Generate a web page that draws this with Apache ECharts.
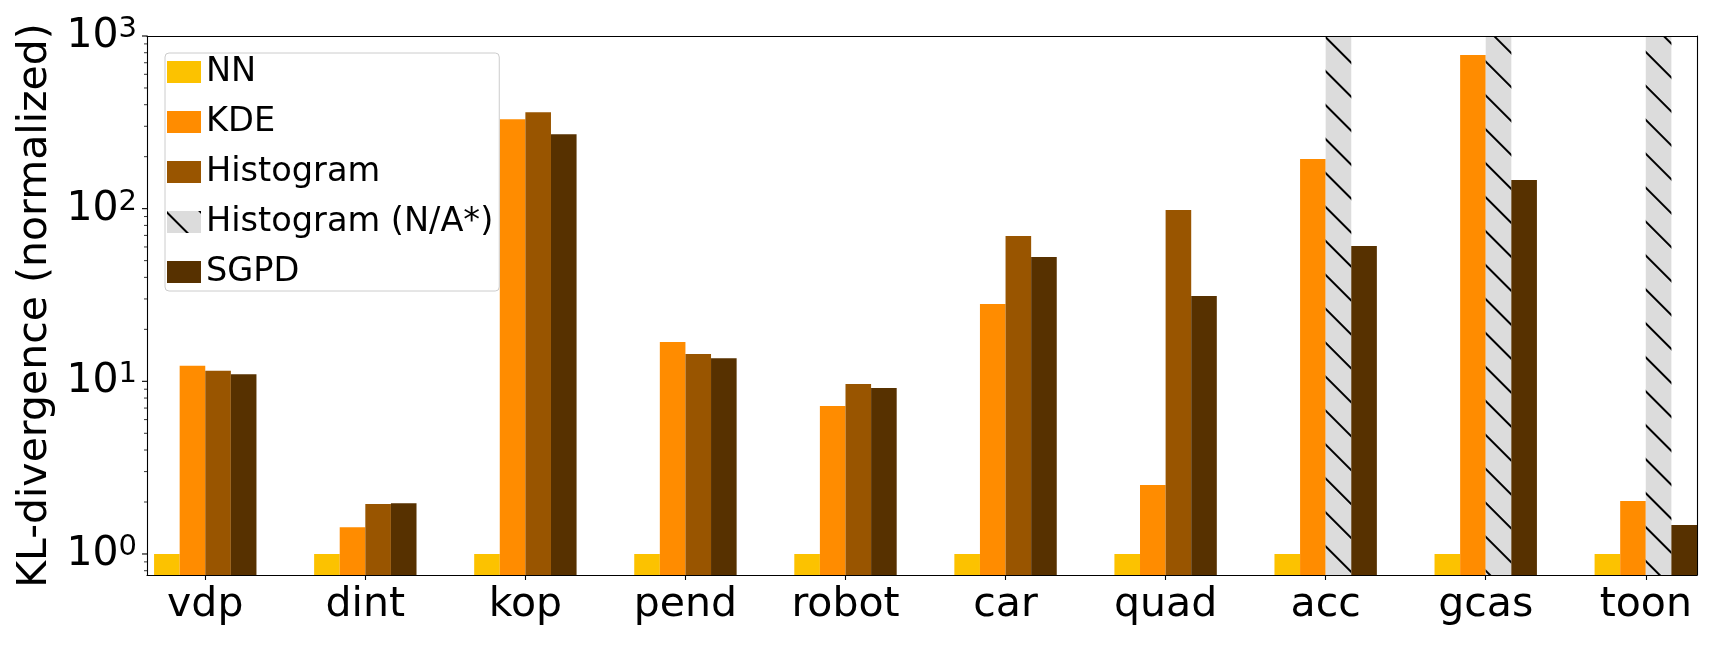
<!DOCTYPE html>
<html><head><meta charset="utf-8">
<script src="https://cdn.jsdelivr.net/npm/echarts@6/dist/echarts.min.js"></script>
<style>html,body{margin:0;padding:0;background:#fff;} #c{width:1717px;height:645px;}</style>
</head><body><div id="c"></div>
<script>
// ---- data ----
const categories = ['vdp', 'dint', 'kop', 'pend', 'robot', 'car', 'quad', 'acc', 'gcas', 'toon'];
const nnValues   = [1, 1, 1, 1, 1, 1, 1, 1, 1, 1];
const kdeValues  = [12.3, 1.43, 330, 16.9, 7.19, 28.0, 2.51, 194, 775, 2.03];
const histValues = [11.5, 1.95, 362, 14.4, 9.64, 69.4, 98.2, null, null, null];
const histNotAvailable = [false, false, false, false, false, false, false, true, true, true];
const sgpdValues = [11.0, 1.97, 270, 13.6, 9.15, 52.4, 31.2, 60.7, 146.4, 1.47];
const yExponents = [0, 1, 2, 3];
const yMin = 0.7555, yMax = 1000;
const xMin = -0.364, xMax = 9.32;

// ---- style ----
const FONT = 'DejaVu Sans';
const C_NN = '#fcc200', C_KDE = '#ff8c00', C_HIST = '#995500', C_NA = '#dcdcdc', C_SGPD = '#573100';
const GRID = {left: 147, right: 20, top: 36, bottom: 70};
const hatch = {
  symbol: 'rect', symbolSize: 1, color: '#000', backgroundColor: null,
  dashArrayX: [1, 0], dashArrayY: [1.2, 22], rotation: Math.PI / 4
};

const chart = echarts.init(document.getElementById('c'), null, {renderer: 'canvas'});

const pairs = arr => arr.map((v, i) => [i, v == null ? '-' : v]);
const histData = categories.map((c, i) => histNotAvailable[i]
  ? {value: [i, yMax], itemStyle: {color: C_NA, decal: hatch}}
  : [i, histValues[i] == null ? '-' : histValues[i]]);

const barCommon = {type: 'bar', barWidth: 25.6, barGap: '0%', xAxisIndex: 0, yAxisIndex: 0};

const option = {
  animation: false,
  backgroundColor: '#fff',
  textStyle: {fontFamily: FONT},
  grid: Object.assign({containLabel: false}, GRID),
  legend: {
    orient: 'vertical', left: 165, top: 53,
    padding: [2, 6, 2, 2],
    itemWidth: 34, itemHeight: 22, itemGap: 16,
    icon: 'rect',
    borderColor: '#cccccc', borderWidth: 1, borderRadius: 4,
    backgroundColor: 'rgba(255,255,255,0.8)',
    textStyle: {fontFamily: FONT, fontSize: 33.6, lineHeight: 34, color: '#000'},
    data: ['NN', 'KDE', 'Histogram', 'Histogram (N/A*)', 'SGPD'],
    z: 20
  },
  xAxis: [{
    type: 'value', min: xMin, max: xMax, position: 'bottom', z: 10,
    axisLine: {show: true, onZero: false, lineStyle: {color: '#000', width: 1.1}},
    axisTick: {show: true, length: 5, customValues: categories.map((c, i) => i), lineStyle: {color: '#000', width: 1.1}},
    axisLabel: {show: true, margin: 10, customValues: categories.map((c, i) => i),
      formatter: v => categories[Math.round(v)] || '',
      fontFamily: FONT, fontSize: 41, color: '#000'},
    splitLine: {show: false}
  }, {
    type: 'value', min: xMin, max: xMax, position: 'top', z: 10,
    axisLine: {show: true, onZero: false, lineStyle: {color: '#000', width: 1.1}},
    axisTick: {show: false}, axisLabel: {show: false}, splitLine: {show: false}
  }],
  yAxis: [{
    type: 'log', logBase: 10, min: yMin, max: yMax, startValue: yMin, z: 10,
    name: 'KL-divergence (normalized)', nameLocation: 'middle', nameRotate: 90, nameGap: 82,
    nameTextStyle: {fontFamily: FONT, fontSize: 41, color: '#000'},
    axisLine: {show: true, onZero: false, lineStyle: {color: '#000', width: 1.1}},
    axisTick: {show: false},
    axisLabel: {
      show: true, margin: 10, color: '#000',
      formatter: v => {
        const e = Math.log10(v);
        const r = Math.round(e);
        if (Math.abs(e - r) > 1e-6 || yExponents.indexOf(r) < 0) return '';
        return '{b|10}{s|' + r + '}';
      },
      rich: {
        b: {fontFamily: FONT, fontSize: 41, lineHeight: 42, verticalAlign: 'bottom', color: '#000'},
        s: {fontFamily: FONT, fontSize: 29, lineHeight: 29, verticalAlign: 'top', padding: [0, 0, 19, 0], color: '#000'}
      }
    },
    splitLine: {show: false}, minorTick: {show: false}
  }, {
    type: 'value', min: 0, max: 1, position: 'right', z: 10,
    axisLine: {show: true, onZero: false, lineStyle: {color: '#000', width: 1.1}},
    axisTick: {show: false}, axisLabel: {show: false}, splitLine: {show: false}
  }],
  series: [
    Object.assign({name: 'NN', data: pairs(nnValues), itemStyle: {color: C_NN}}, barCommon),
    Object.assign({name: 'KDE', data: pairs(kdeValues), itemStyle: {color: C_KDE}}, barCommon),
    Object.assign({name: 'Histogram', data: histData, itemStyle: {color: C_HIST}}, barCommon),
    Object.assign({name: 'SGPD', data: pairs(sgpdValues), itemStyle: {color: C_SGPD}}, barCommon),
    {name: 'Histogram (N/A*)', type: 'bar', xAxisIndex: 1, yAxisIndex: 0, data: [],
     itemStyle: {color: C_NA, decal: hatch}}
  ]
};
chart.setOption(option);

// y-axis major / minor ticks (matplotlib style) placed through the axis scale
const ticks = [];
for (let e = -1; e <= 3; e++) {
  for (let m = 1; m <= 9; m++) {
    const v = m * Math.pow(10, e);
    if (v < yMin - 1e-9 || v > yMax + 1e-9) continue;
    const y = chart.convertToPixel({yAxisIndex: 0}, v);
    const len = m === 1 ? 5 : 3;
    ticks.push({type: 'line', z: 30, silent: true,
      shape: {x1: GRID.left - len, y1: y, x2: GRID.left, y2: y},
      style: {stroke: '#000', lineWidth: m === 1 ? 1.1 : 0.8}});
  }
}
chart.setOption({graphic: ticks});
</script></body></html>
